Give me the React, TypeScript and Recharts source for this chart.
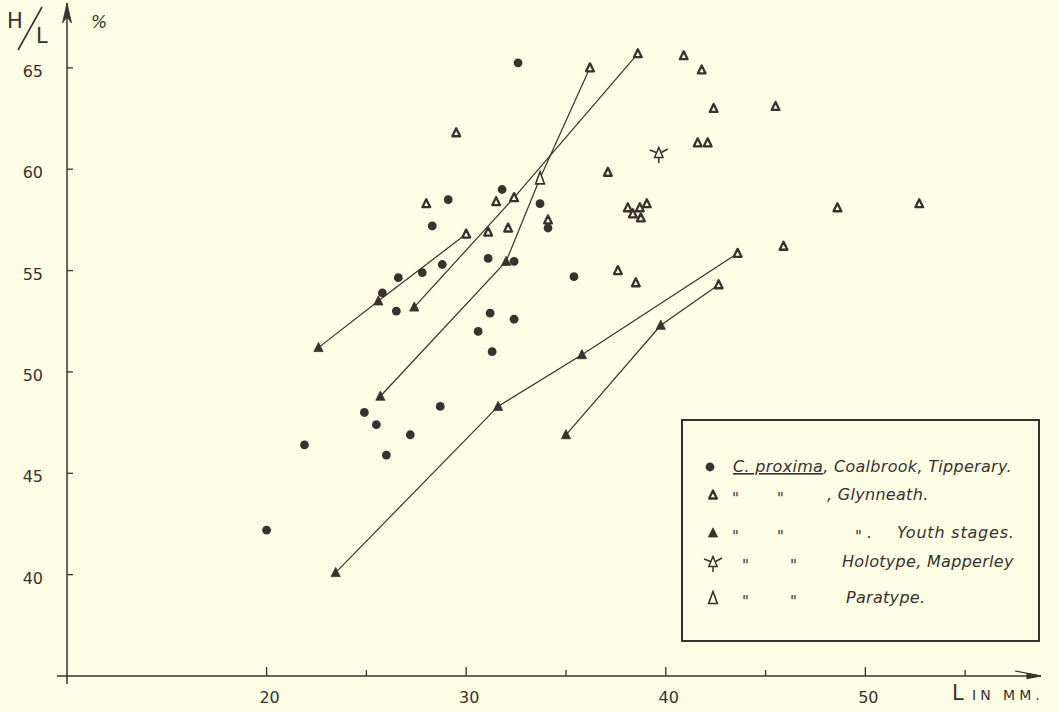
import React from "react";
import {
  Legend,
  ReferenceDot,
  ReferenceLine,
  Scatter,
  ScatterChart,
  XAxis,
  YAxis,
} from "recharts";

const INK = "#37322d";
const PAPER = "#fdfde6";
const FONT = "'DejaVu Sans', sans-serif";

type Pt = [number, number]; // [L in mm, H/L in %]

// C. proxima, Coalbrook, Tipperary (filled dots)
const coalbrook: Pt[] = [
  [20.0, 42.2], [21.9, 46.4], [24.9, 48.0], [25.5, 47.4], [26.0, 45.9],
  [27.2, 46.9], [28.7, 48.3], [25.8, 53.9], [26.5, 53.0], [26.6, 54.65],
  [27.8, 54.9], [28.8, 55.3], [28.3, 57.2], [29.1, 58.5], [31.8, 59.0],
  [32.6, 65.25], [31.1, 55.6], [32.4, 55.45], [31.2, 52.9], [32.4, 52.6],
  [30.6, 52.0], [31.3, 51.0], [33.7, 58.3], [34.1, 57.1], [35.4, 54.7],
];

// Glynneath (small open triangles)
const glynneath: Pt[] = [
  [29.5, 61.8], [28.0, 58.3], [31.5, 58.4], [32.4, 58.6], [34.1, 57.5],
  [30.0, 56.8], [31.1, 56.9], [32.1, 57.1], [36.2, 65.0], [38.6, 65.7],
  [40.9, 65.6], [41.8, 64.9], [42.4, 63.0], [45.5, 63.1], [41.6, 61.3],
  [42.1, 61.3], [37.1, 59.85], [38.1, 58.1], [38.7, 58.1], [39.05, 58.3],
  [38.35, 57.8], [38.75, 57.6], [48.6, 58.1], [52.7, 58.3], [45.9, 56.2],
  [37.6, 55.0], [38.5, 54.4], [43.6, 55.85], [42.65, 54.3],
];

// Glynneath youth stages (filled triangles)
const youth: Pt[] = [
  [22.6, 51.2], [25.6, 53.5], [27.4, 53.2], [25.7, 48.8], [32.0, 55.45],
  [23.46, 40.1], [31.6, 48.3], [35.8, 50.85], [35.0, 46.9], [39.75, 52.3],
];

const holotype: Pt[] = [[39.65, 60.8]];
const paratype: Pt[] = [[33.7, 59.55]];

// growth lines joining youth stages to adults
const growthA: Pt[] = [[22.6, 51.2], [25.6, 53.5], [30.0, 56.8]];
const growthB: Pt[] = [[27.4, 53.2], [32.4, 58.6], [38.6, 65.7]];
const growthC: Pt[] = [[25.7, 48.8], [32.0, 55.45], [33.7, 59.55], [36.2, 65.0]];
const growthD: Pt[] = [[23.46, 40.1], [31.6, 48.3], [35.8, 50.85], [43.6, 55.85]];
const growthE: Pt[] = [[35.0, 46.9], [39.75, 52.3], [42.65, 54.3]];
const growthLines = [growthA, growthB, growthC, growthD, growthE];

const xMajor = [20, 30, 40, 50];
const xMinor = [25, 35, 45, 55];
const yTicks = [40, 45, 50, 55, 60, 65];

const toPts = (arr: Pt[]) => arr.map(([L, H]) => ({ L, H }));

function DotMark({ cx, cy }: any) {
  return <circle cx={cx} cy={cy} r={4.4} fill={INK} />;
}

function tri(cx: number, cy: number, hw: number, up: number, down: number) {
  return `M${cx},${cy - up} L${cx + hw},${cy + down} L${cx - hw},${cy + down} Z`;
}

function OpenTri({ cx, cy }: any) {
  return (
    <path d={tri(cx, cy, 3.9, 4.5, 3.5)} fill={PAPER} stroke={INK} strokeWidth={2.3} strokeLinejoin="round" />
  );
}

function FilledTri({ cx, cy }: any) {
  return (
    <path d={tri(cx, cy, 4.6, 5.2, 4)} fill={INK} stroke={INK} strokeWidth={0.8} strokeLinejoin="round" />
  );
}

function ParaTri({ cx, cy }: any) {
  return <path d={tri(cx, cy, 4.4, 6.5, 5.5)} fill={PAPER} stroke={INK} strokeWidth={1.6} />;
}

function HoloMark({ cx, cy }: any) {
  return (
    <g stroke={INK} strokeWidth={1.5} fill="none">
      <path d={tri(cx, cy, 4.2, 5.5, 4.5)} fill={PAPER} />
      <path d={`M${cx - 9},${cy - 3} L${cx - 2.5},${cy - 0.5} M${cx + 2.5},${cy - 0.5} L${cx + 9},${cy - 4}`} />
      <path d={`M${cx},${cy + 4.5} L${cx},${cy + 10}`} />
    </g>
  );
}

function XTick({ x, y, payload }: any) {
  const major = xMajor.includes(payload.value);
  return (
    <g>
      <line x1={x} x2={x} y1={y} y2={y - (major ? 9 : 6)} stroke={INK} strokeWidth={1.3} />
      {major && (
        <text x={x + 3} y={y + 27} textAnchor="middle" fontSize={16} fill={INK} fontFamily={FONT}>
          {payload.value}
        </text>
      )}
    </g>
  );
}

function YTick({ x, y, payload }: any) {
  return (
    <g>
      <line x1={x} x2={x + 6} y1={y} y2={y} stroke={INK} strokeWidth={1.3} />
      <text x={x - 24} y={y + 9} textAnchor="end" fontSize={16} fill={INK} fontFamily={FONT}>
        {payload.value}
      </text>
    </g>
  );
}

function YTitle({ viewBox }: any) {
  const x0 = viewBox.x;
  return (
    <g fill={INK} fontFamily={FONT}>
      <text x={x0 + 7} y={28} fontSize={21}>H</text>
      <line x1={x0 + 18} y1={50} x2={x0 + 42} y2={7} stroke={INK} strokeWidth={1.6} />
      <text x={x0 + 36} y={43} fontSize={21}>L</text>
      <text x={x0 + viewBox.width + 24} y={28} fontSize={17} fontStyle="italic">%</text>
    </g>
  );
}

function XTitle({ viewBox }: any) {
  const lx = viewBox.x + viewBox.width - 89;
  const base = viewBox.y + 24;
  return (
    <g fill={INK} fontFamily={FONT}>
      <text x={lx} y={base} fontSize={21}>L</text>
      <text x={lx + 20} y={base} fontSize={14} letterSpacing={4}>IN MM.</text>
    </g>
  );
}

function Ditto({ x, y }: { x: number; y: number }) {
  return (
    <text x={x} y={y + 9} fontSize={15} fill={INK} fontFamily={FONT}>
      "
    </text>
  );
}

function LegendBox() {
  const t = { fontSize: 16, fill: INK, fontFamily: FONT, fontStyle: "italic" as const, letterSpacing: 0.3 };
  const rows = [48, 76, 114, 143, 179];
  return (
    <svg width={359} height={223} style={{ display: "block" }}>
      <rect x={1} y={1} width={357} height={221} fill={PAPER} stroke={INK} strokeWidth={2} />
      <DotMark cx={29} cy={rows[0]} />
      <text x={52} y={rows[0] + 5} {...t}>
        <tspan style={{ textDecoration: "underline" }}>C. proxima</tspan>, Coalbrook, Tipperary.
      </text>

      <OpenTri cx={32} cy={rows[1]} />
      <Ditto x={51} y={rows[1]} />
      <Ditto x={96} y={rows[1]} />
      <text x={146} y={rows[1] + 5} {...t}>, Glynneath.</text>

      <FilledTri cx={32} cy={rows[2]} />
      <Ditto x={51} y={rows[2]} />
      <Ditto x={96} y={rows[2]} />
      <Ditto x={174} y={rows[2]} />
      <text x={186} y={rows[2] + 5} {...t}>.</text>
      <text x={216} y={rows[2] + 5} {...t} letterSpacing={0.8}>Youth stages.</text>

      <HoloMark cx={32} cy={rows[3]} />
      <Ditto x={61} y={rows[3]} />
      <Ditto x={109} y={rows[3]} />
      <text x={161} y={rows[3] + 5} {...t}>Holotype, Mapperley</text>

      <ParaTri cx={32} cy={rows[4]} />
      <Ditto x={61} y={rows[4]} />
      <Ditto x={109} y={rows[4]} />
      <text x={165} y={rows[4] + 5} {...t}>Paratype.</text>
    </svg>
  );
}

function XArrow({ cx, cy }: any) {
  return (
    <g stroke={INK} fill={INK} strokeWidth={1.2}>
      <path d={`M${cx},${cy} L${cx - 14},${cy - 2.5} L${cx - 14},${cy + 2.5} Z`} />
      <path d={`M${cx},${cy} L${cx - 26},${cy - 5}`} fill="none" />
    </g>
  );
}

function YArrow({ cx, cy }: any) {
  return (
    <path
      d={`M${cx},${cy} L${cx + 4.5},${cy + 20} L${cx},${cy + 14} L${cx - 4.5},${cy + 20} Z`}
      fill={INK}
      stroke={INK}
      strokeWidth={0.8}
    />
  );
}

export default function App() {
  return (
    <div style={{ position: "absolute", left: 0, top: 0, width: 1058, height: 712, background: PAPER }}>
      <ScatterChart width={1058} height={712} margin={{ top: 3, right: 17, bottom: 0, left: 0 }}>
        <XAxis
          type="number"
          dataKey="L"
          domain={[10, 58.8]}
          allowDataOverflow
          ticks={[...xMajor, ...xMinor].sort((a, b) => a - b)}
          interval={0}
          tick={<XTick />}
          tickLine={false}
          tickSize={0}
          tickMargin={0}
          axisLine={false}
          height={36}
          label={{ content: <XTitle /> }}
        />
        <YAxis
          type="number"
          dataKey="H"
          domain={[35, 68.2]}
          allowDataOverflow
          ticks={yTicks}
          interval={0}
          tick={<YTick />}
          tickLine={false}
          tickSize={0}
          tickMargin={0}
          axisLine={false}
          width={67}
          label={{ content: <YTitle /> }}
        />
        <ReferenceLine
          segment={[{ x: 9.5, y: 35 }, { x: 58.8, y: 35 }]}
          stroke={INK}
          strokeWidth={1.5}
          ifOverflow="visible"
        />
        <ReferenceLine
          segment={[{ x: 10, y: 34.6 }, { x: 10, y: 68.2 }]}
          stroke={INK}
          strokeWidth={1.5}
          ifOverflow="visible"
        />
        <ReferenceDot x={58.8} y={35} ifOverflow="visible" shape={<XArrow />} />
        <ReferenceDot x={10} y={68.2} ifOverflow="visible" shape={<YArrow />} />

        {growthLines.map((g, i) => (
          <Scatter
            key={`g${i}`}
            data={toPts(g)}
            line={{ stroke: INK, strokeWidth: 1.2 }}
            shape={() => <g />}
            legendType="none"
            isAnimationActive={false}
          />
        ))}

        <Scatter name="Coalbrook" data={toPts(coalbrook)} shape={<DotMark />} isAnimationActive={false} />
        <Scatter name="Glynneath" data={toPts(glynneath)} shape={<OpenTri />} isAnimationActive={false} />
        <Scatter name="Youth stages" data={toPts(youth)} shape={<FilledTri />} isAnimationActive={false} />
        <Scatter name="Holotype" data={toPts(holotype)} shape={<HoloMark />} isAnimationActive={false} />
        <Scatter name="Paratype" data={toPts(paratype)} shape={<ParaTri />} isAnimationActive={false} />

        <Legend
          layout="vertical"
          align="center"
          verticalAlign="middle"
          content={<LegendBox />}
          wrapperStyle={{ position: "absolute", left: 681, top: 419, width: 359, height: 223, margin: 0 }}
        />
      </ScatterChart>
    </div>
  );
}
